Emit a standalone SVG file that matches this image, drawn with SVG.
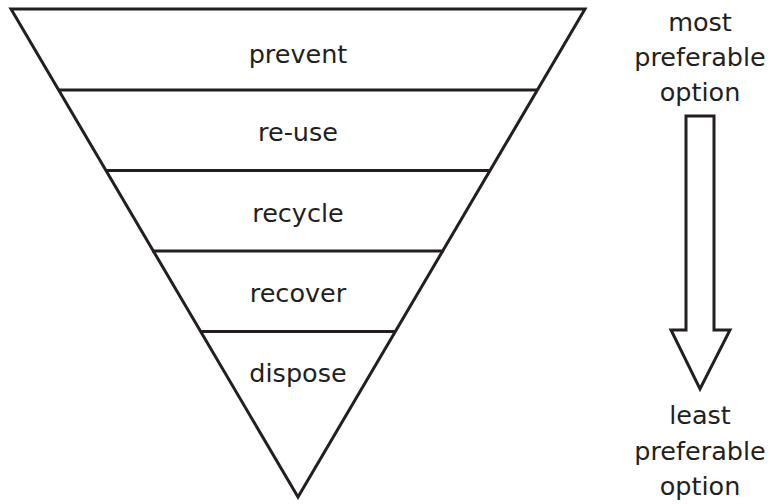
<svg xmlns="http://www.w3.org/2000/svg" width="773" height="504" viewBox="0 0 773 504">
<style>
.ln{stroke:#231f20;stroke-width:3;fill:none;stroke-linejoin:miter}
.t{font-family:"DejaVu Sans",sans-serif;font-size:25.5px;fill:#231f20;text-anchor:middle}
</style>
<rect width="773" height="504" fill="#fff"/>
<g id="funnel">
<polygon class="ln" points="11,9 585,9 298,497"/>
</g>
<g id="connectors">
<line class="ln" x1="58" y1="90" x2="538" y2="90"/>
<line class="ln" x1="105" y1="170.5" x2="491" y2="170.5"/>
<line class="ln" x1="152" y1="251" x2="444" y2="251"/>
<line class="ln" x1="200" y1="331.5" x2="396" y2="331.5"/>
<polygon id="arrow" class="ln" points="686,116 714,116 714,330 730,330 700,389 671,330 686,330"/>
</g>
<g id="prevent"><text class="t" x="298" y="63">prevent</text></g>
<g id="reuse"><text class="t" x="298" y="141">re-use</text></g>
<g id="recycle"><text class="t" x="298" y="222">recycle</text></g>
<g id="recover"><text class="t" x="298" y="302">recover</text></g>
<g id="dispose"><text class="t" x="298" y="382">dispose</text></g>
<g id="most"><text class="t" x="700" y="31">most</text><text class="t" x="700" y="66">preferable</text><text class="t" x="700" y="101">option</text></g>
<g id="least"><text class="t" x="700" y="424">least</text><text class="t" x="700" y="460">preferable</text><text class="t" x="700" y="495">option</text></g>
</svg>
